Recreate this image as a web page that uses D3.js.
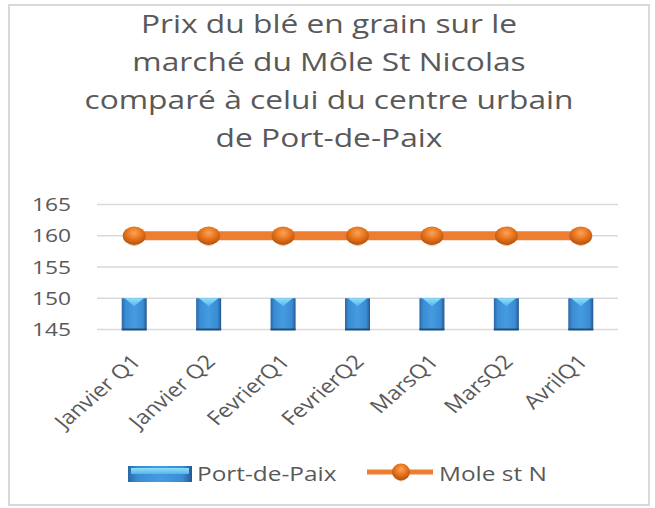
<!DOCTYPE html>
<html>
<head>
<meta charset="utf-8">
<script src="https://cdn.jsdelivr.net/npm/d3@7"></script>
<style>
  body { margin: 0; background: #fff; }
  text { font-family: "Open Sans", sans-serif; fill: #595959; }
</style>
</head>
<body>
<div id="chart"></div>
<script>
// data
const categories = ["Janvier Q1", "Janvier Q2", "FevrierQ1", "FevrierQ2", "MarsQ1", "MarsQ2", "AvrilQ1"];
const portDePaix = [150, 150, 150, 150, 150, 150, 150];
const moleStN = [160, 160, 160, 160, 160, 160, 160];
const yTicks = [145, 150, 155, 160, 165];
const titleLines = ["Prix du blé en grain sur le", "marché du Môle St Nicolas", "comparé à celui du centre urbain", "de Port-de-Paix"];
const seriesNames = ["Port-de-Paix", "Mole st N"];

const W = 655, H = 508;
const svg = d3.select("#chart").append("svg").attr("width", W).attr("height", H);
const defs = svg.append("defs");

// bar gradient (bevelled look)
const bg = defs.append("linearGradient").attr("id", "barGrad").attr("x1", 0).attr("x2", 1).attr("y1", 0).attr("y2", 0);
[["0%", "#2a68a6"], ["15%", "#3a8cd3"], ["50%", "#459be0"], ["85%", "#3a8cd3"], ["100%", "#24598e"]]
  .forEach(s => bg.append("stop").attr("offset", s[0]).attr("stop-color", s[1]));
const tg = defs.append("linearGradient").attr("id", "topGrad").attr("x1", 0).attr("x2", 0).attr("y1", 0).attr("y2", 1);
[["0%", "#8fe0fb"], ["100%", "#56b4ec"]].forEach(s => tg.append("stop").attr("offset", s[0]).attr("stop-color", s[1]));
const mg = defs.append("radialGradient").attr("id", "markGrad").attr("cx", "50%").attr("cy", "35%").attr("r", "60%");
[["0%", "#f9a45a"], ["55%", "#e8741c"], ["100%", "#b9560f"]].forEach(s => mg.append("stop").attr("offset", s[0]).attr("stop-color", s[1]));

// outer border
svg.append("rect").attr("x", 9).attr("y", 5).attr("width", 640).attr("height", 500)
  .attr("fill", "#fff").attr("stroke", "#d9d9d9").attr("stroke-width", 2);

// stretched text helper (the chart is wider than the font)
function stext(g, x, y, str, size, sx, anchor) {
  return g.append("g").attr("transform", `translate(${x},${y}) scale(${sx},1)`)
    .append("text").attr("text-anchor", anchor).style("font-size", size + "px").text(str);
}

// title
titleLines.forEach((t, i) => stext(svg, 329, 33 + i * 38, t, 26, 1.22, "middle"));

// scales
const x = d3.scaleBand().domain(categories).range([97, 618]).paddingInner(0.664).paddingOuter(0.332);
const y = d3.scaleLinear().domain([145, 165]).range([329.5, 204.5]);

// gridlines
svg.append("g").selectAll("line").data(yTicks).enter().append("line")
  .attr("x1", 97).attr("x2", 618)
  .attr("y1", d => y(d)).attr("y2", d => y(d))
  .attr("stroke", "#d9d9d9").attr("stroke-width", 1.5);

// y labels
const yl = svg.append("g");
yTicks.forEach(d => stext(yl, 71, y(d) + 6.5, d, 19, 1.2, "end"));

// bars
const bars = svg.append("g").selectAll("g").data(portDePaix).enter().append("g");
bars.append("rect")
  .attr("x", (d, i) => x(categories[i]))
  .attr("y", d => y(d))
  .attr("width", x.bandwidth())
  .attr("height", d => y(145) - y(d))
  .attr("fill", "url(#barGrad)");
bars.append("path")
  .attr("d", (d, i) => {
    const x0 = x(categories[i]), bw = x.bandwidth(), t = y(d);
    return `M${x0 + 3},${t} L${x0 + bw - 3},${t} L${x0 + bw / 2},${t + 8} Z`;
  })
  .attr("fill", "url(#topGrad)");
bars.append("line")
  .attr("x1", (d, i) => x(categories[i])).attr("x2", (d, i) => x(categories[i]) + x.bandwidth())
  .attr("y1", y(145)).attr("y2", y(145))
  .attr("stroke", "#1f4e79").attr("stroke-width", 2);

// line series
const cx = (d, i) => x(categories[i]) + x.bandwidth() / 2;
svg.append("path").datum(moleStN)
  .attr("d", d3.line().x(cx).y(d => y(d)))
  .attr("fill", "none").attr("stroke", "#ed7d31").attr("stroke-width", 9);

function marker(g, mx, my, rx, ry) {
  g.append("ellipse").attr("cx", mx).attr("cy", my + ry * 0.45).attr("rx", rx * 0.6).attr("ry", ry * 0.5)
    .attr("fill", "#f3c4a3");
  g.append("ellipse").attr("cx", mx).attr("cy", my).attr("rx", rx).attr("ry", ry * 0.85)
    .attr("fill", "url(#markGrad)");
}
const mk = svg.append("g");
moleStN.forEach((d, i) => marker(mk, cx(d, i), y(d), 11.5, 11));

// x labels
const xl = svg.append("g");
categories.forEach(c => {
  xl.append("text")
    .attr("transform", `translate(${x(c) + x.bandwidth() / 2 + 2},${358}) scale(1.2,1) rotate(-46)`)
    .attr("text-anchor", "end").attr("dy", "0.35em")
    .style("font-size", "19.5px")
    .text(c);
});

// legend
const lg = svg.append("g");
lg.append("rect").attr("x", 128).attr("y", 466).attr("width", 64).attr("height", 16).attr("fill", "url(#barGrad)");
lg.append("rect").attr("x", 131).attr("y", 468).attr("width", 58).attr("height", 6).attr("fill", "url(#topGrad)");
stext(lg, 197, 481, seriesNames[0], 20, 1.22, "start");
lg.append("line").attr("x1", 367).attr("x2", 433).attr("y1", 472).attr("y2", 472)
  .attr("stroke", "#ed7d31").attr("stroke-width", 5);
marker(lg, 401, 472, 9, 10);
stext(lg, 439, 481, seriesNames[1], 20, 1.22, "start");
</script>
</body>
</html>
